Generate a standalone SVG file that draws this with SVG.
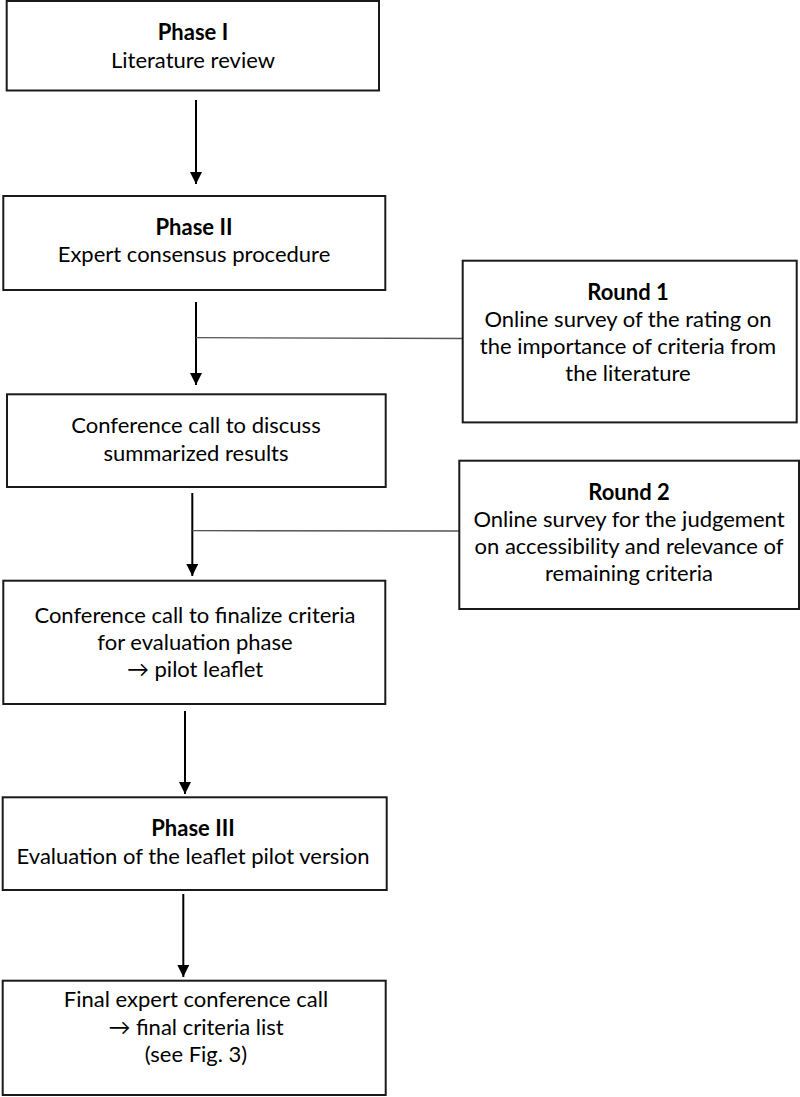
<svg xmlns="http://www.w3.org/2000/svg" width="800" height="1097" viewBox="0 0 800 1097">
<style>
.box{fill:#fff;stroke:#1a1a1a;stroke-width:2}
.t{font-family:Lato,"Liberation Sans",sans-serif;font-size:22px;fill:#000;text-anchor:middle}
.b{font-weight:bold}
.arr{stroke:#000;stroke-width:2;fill:none}
.tie{stroke:#555;stroke-width:1.3;fill:none}
</style>
<defs>
<marker id="ah" markerUnits="userSpaceOnUse" markerWidth="12" markerHeight="12" refX="12" refY="6" orient="auto">
<path d="M0,0 L12,6 L0,12 Z" fill="#000"/>
</marker>
</defs>
<rect width="800" height="1097" fill="#fff"/>
<g id="connectors">
<line class="arr" x1="196" y1="100" x2="196" y2="184" marker-end="url(#ah)"/>
<line class="arr" x1="196" y1="302" x2="196" y2="385" marker-end="url(#ah)"/>
<line class="tie" x1="196" y1="337.7" x2="463" y2="338.5"/>
<line class="arr" x1="192.3" y1="493" x2="192.3" y2="576" marker-end="url(#ah)"/>
<line class="tie" x1="192.3" y1="530.7" x2="459.3" y2="531"/>
<line class="arr" x1="185" y1="711" x2="185" y2="794" marker-end="url(#ah)"/>
<line class="arr" x1="183.3" y1="894" x2="183.3" y2="977" marker-end="url(#ah)"/>
</g>
<g id="phase1">
<rect class="box" x="6.7" y="1" width="372.3" height="89.5"/>
<text class="t b" x="193" y="40">Phase I</text>
<text class="t" x="193" y="68">Literature review</text>
</g>
<g id="phase2">
<rect class="box" x="3.3" y="196" width="382" height="94"/>
<text class="t b" x="194" y="235">Phase II</text>
<text class="t" x="194" y="262">Expert consensus procedure</text>
</g>
<g id="round1">
<rect class="box" x="462.7" y="260.7" width="334" height="161.7"/>
<text class="t b" x="628" y="300">Round 1</text>
<text class="t" x="628" y="327">Online survey of the rating on</text>
<text class="t" x="628" y="354">the importance of criteria from</text>
<text class="t" x="628" y="381">the literature</text>
</g>
<g id="conf1">
<rect class="box" x="7" y="394.3" width="378.7" height="92.7"/>
<text class="t" x="196" y="433">Conference call to discuss</text>
<text class="t" x="196" y="461">summarized results</text>
</g>
<g id="round2">
<rect class="box" x="459.3" y="460.7" width="339.7" height="148.3"/>
<text class="t b" x="629" y="500">Round 2</text>
<text class="t" x="629" y="527">Online survey for the judgement</text>
<text class="t" x="629" y="554">on accessibility and relevance of</text>
<text class="t" x="629" y="581">remaining criteria</text>
</g>
<g id="conf2">
<rect class="box" x="3.3" y="580.7" width="382" height="123.3"/>
<text class="t" x="195" y="623">Conference call to finalize criteria</text>
<text class="t" x="195" y="650">for evaluation phase</text>
<text class="t" x="195" y="677">→ pilot leaflet</text>
</g>
<g id="phase3">
<rect class="box" x="2.7" y="797.3" width="384" height="92.7"/>
<text class="t b" x="193" y="836">Phase III</text>
<text class="t" x="193" y="864">Evaluation of the leaflet pilot version</text>
</g>
<g id="final">
<rect class="box" x="2.7" y="980.7" width="383" height="114.3"/>
<text class="t" x="196" y="1007">Final expert conference call</text>
<text class="t" x="196" y="1035">→ final criteria list</text>
<text class="t" x="196" y="1062">(see Fig. 3)</text>
</g>
</svg>
